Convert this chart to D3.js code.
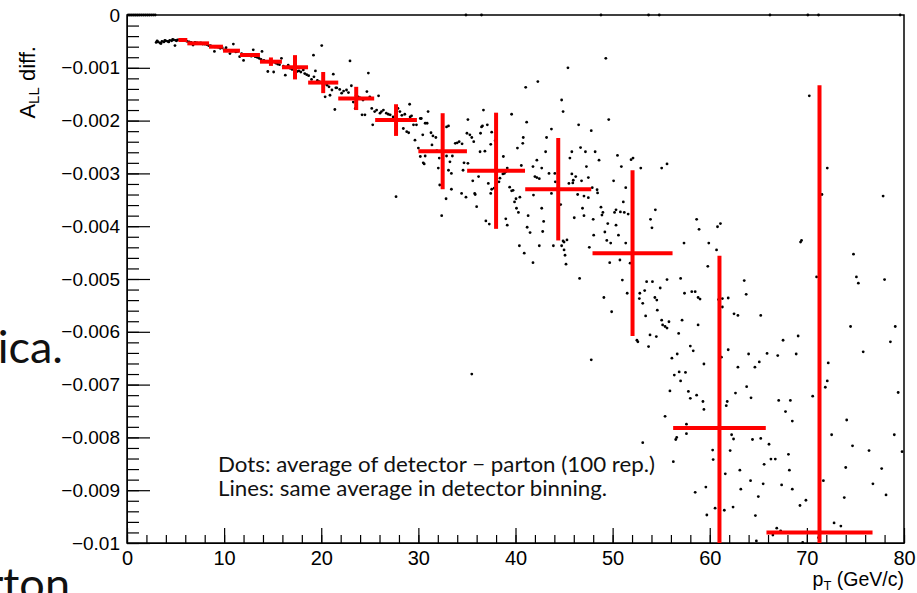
<!DOCTYPE html>
<html><head><meta charset="utf-8">
<script src="https://cdn.jsdelivr.net/npm/d3@7"></script>
<style>body{margin:0;background:#fff;} svg{display:block;}</style>
</head><body>
<svg id="c" width="917" height="593"></svg>
<script>
// ---- data ----
const xTickValues = [0,10,20,30,40,50,60,70,80];
const xTickLabels = ["0","10","20","30","40","50","60","70","80"];
const yTickValues = [0,-0.001,-0.002,-0.003,-0.004,-0.005,-0.006,-0.007,-0.008,-0.009,-0.01];
const yTickLabels = ["0","\u22120.001","\u22120.002","\u22120.003","\u22120.004","\u22120.005","\u22120.006","\u22120.007","\u22120.008","\u22120.009","\u22120.01"];

// detector-binned averages (red crosses)
const binCenter    = [5.75, 7.33, 9.16, 10.76, 12.66, 14.82, 17.3, 20.2, 23.6, 27.7, 32.5, 38.0, 44.4, 52.05, 61.0, 71.3];
const binHalfWidth = [0.46, 1.12, 0.72, 0.87, 1.03, 1.13, 1.34, 1.55, 1.85, 2.15, 2.5, 2.98, 3.4, 4.12, 4.77, 5.46];
const binValue     = [-0.000473,-0.000537,-0.0006,-0.000676,-0.000758,-0.000884,-0.00099,-0.00128,-0.00158,-0.00199,-0.00258,-0.00295,-0.0033,-0.00451,-0.00782,-0.0098];
const binError     = [0.00003,0.00003,0.00003,0.00003,0.00003,0.00008,0.00023,0.0002,0.00022,0.0003,0.00072,0.0011,0.00097,0.00157,0.00326,0.00847];

// fine-binned averages (black dots): [pT, A_LL diff]
const dots = [
[0.1,0],[0.3,0],[0.5,0],[0.7,0],[0.9,0],[1.1,0],[1.3,0],[1.5,0],[1.7,0],[1.9,0],[2.1,0],[2.3,0],[2.5,0],[2.7,0],[2.9,0],
[34.9,0],[36.5,0],[48.8,0],[53.7,0],[54.8,0],[66.2,0],[70.1,0],[71.2,0],[79.6,0],
[3.0,-0.00052],[3.1,-0.00049],[3.2,-0.00051],[3.4,-0.00053],[3.5,-0.00054],[3.6,-0.0005],[3.8,-0.00051],[3.9,-0.00048],[4.0,-0.00049],[4.2,-0.0005],[4.3,-0.00051],[4.4,-0.00048],[4.6,-0.00049],[4.7,-0.00046],[4.8,-0.00047],[4.94,-0.00058],[5.0,-0.00048],[5.1,-0.00049],[5.2,-0.00047],
[5.4,-0.00047],[5.6,-0.00048],[5.8,-0.00047],[6.0,-0.00049],[6.2,-0.0005],[6.4,-0.00051],[6.6,-0.00052],[6.8,-0.00057],[7.0,-0.00052],[7.2,-0.00053],[7.4,-0.00054],[7.6,-0.00053],[7.8,-0.00055],[8.0,-0.00055],[8.2,-0.00056],[8.4,-0.00058],
[8.6,-0.00058],[8.8,-0.0006],[9.0,-0.00069],[9.2,-0.0006],[9.4,-0.00061],[9.6,-0.00063],[9.8,-0.00062],
[10.0,-0.00066],[10.2,-0.00062],[10.4,-0.00067],[10.6,-0.00073],[10.8,-0.00068],[10.95,-0.00055],[11.2,-0.0007],[11.4,-0.00069],
[11.6,-0.00079],[11.8,-0.00073],[12.0,-0.00086],[12.2,-0.00075],[12.4,-0.00076],[12.6,-0.00077],[12.8,-0.00078],[13.0,-0.00066],[13.2,-0.00079],[13.4,-0.0008],[13.6,-0.00082],
[13.8,-0.00084],[13.9,-0.00069],[14.1,-0.00086],[14.3,-0.00088],[14.5,-0.00107],[14.7,-0.00089],[14.9,-0.0009],[15.1,-0.00108],[15.3,-0.00091],[15.5,-0.00093],[15.7,-0.00094],[15.9,-0.00082],
[16.1,-0.00097],[16.3,-0.00114],[16.5,-0.00099],[16.6,-0.00095],[16.8,-0.00101],[17.0,-0.00103],[17.2,-0.00102],[17.5,-0.00107],[17.7,-0.00106],[17.9,-0.00108],[18.15,-0.00104],[18.3,-0.00111],[18.5,-0.00113],
[18.7,-0.00115],[19.0,-0.00122],[19.2,-0.00076],[19.25,-0.00117],[19.4,-0.00106],[19.6,-0.00124],[19.8,-0.00126],[20.05,-0.00058],[20.1,-0.00129],[20.3,-0.00131],[20.4,-0.00155],[20.6,-0.00133],[20.8,-0.00136],[20.9,-0.00152],[21.1,-0.00142],[21.24,-0.00112],[21.4,-0.00179],[21.5,-0.00138],[21.6,-0.00138],
[21.9,-0.00141],[22.1,-0.00148],[22.3,-0.00144],[22.6,-0.00142],[22.8,-0.00147],[22.96,-0.00087],[23.1,-0.00134],[23.3,-0.00165],[23.5,-0.00177],[23.6,-0.00152],[23.8,-0.00155],[24.0,-0.00157],[24.2,-0.00189],[24.3,-0.00161],[24.5,-0.00189],[24.7,-0.00145],[24.85,-0.0011],[25.0,-0.00155],[25.2,-0.00177],[25.3,-0.00208],[25.5,-0.00183],
[25.7,-0.0018],[25.9,-0.00153],[26.05,-0.00186],[26.2,-0.00183],[26.4,-0.0018],[26.7,-0.00186],[26.9,-0.00188],[27.1,-0.00189],[27.4,-0.00193],[27.7,-0.00344],[27.9,-0.00177],[28.1,-0.00183],[28.3,-0.0019],[28.45,-0.00215],[28.6,-0.00188],[28.8,-0.00221],[29.0,-0.00223],[29.1,-0.00169],[29.15,-0.00193],[29.3,-0.00191],[29.5,-0.00208],[29.65,-0.00237],[29.8,-0.00208],[30.0,-0.00252],
[30.2,-0.00196],[30.2,-0.00268],[30.3,-0.00196],[30.45,-0.00227],[30.5,-0.0028],[30.6,-0.00282],[30.7,-0.00205],[30.7,-0.00267],[30.9,-0.00205],[31.0,-0.00183],[31.3,-0.00223],[31.4,-0.00246],[31.5,-0.00229],[31.8,-0.00232],[31.9,-0.00257],[32.05,-0.0029],[32.15,-0.00271],[32.2,-0.00322],[32.4,-0.0038],[32.85,-0.00348],[32.9,-0.00212],[32.9,-0.00267],[33.1,-0.0021],[33.1,-0.00294],[33.25,-0.00278],[33.4,-0.003],[33.4,-0.0033],[33.5,-0.00267],[33.8,-0.00243],[34.0,-0.00242],[34.2,-0.0024],[34.45,-0.00338],[34.5,-0.00244],[34.6,-0.00294],[34.7,-0.0028],[34.9,-0.00345],
[35.0,-0.00224],[35.1,-0.00198],[35.1,-0.00281],[35.3,-0.00227],[35.5,-0.00232],[35.5,-0.0068],[35.6,-0.00314],[35.7,-0.0024],[35.8,-0.00338],[35.85,-0.0034],[36.0,-0.00363],[36.2,-0.00306],[36.35,-0.00259],[36.4,-0.00224],[36.5,-0.00212],[36.6,-0.0021],[36.7,-0.0018],[36.85,-0.00258],[36.95,-0.0039],[37.1,-0.00208],[37.2,-0.00319],[37.3,-0.00396],[37.45,-0.00245],[37.45,-0.00338],[37.55,-0.0033],[37.55,-0.00222],[37.8,-0.00328],[37.9,-0.00238],[38.3,-0.00316],[38.4,-0.00309],[38.7,-0.00301],[38.75,-0.00268],[38.85,-0.003],[39.0,-0.00297],[39.0,-0.00386],[39.15,-0.0029],[39.15,-0.00398],[39.4,-0.00326],[39.6,-0.00188],[39.6,-0.00333],[39.75,-0.00332],[39.9,-0.00354],[40.05,-0.00348],[40.1,-0.00366],[40.2,-0.00252],[40.3,-0.00374],[40.4,-0.00437],[40.45,-0.00345],[40.6,-0.00285],[40.75,-0.00243],[40.8,-0.00232],[40.9,-0.00451],
[41.05,-0.00137],[41.15,-0.00203],[41.2,-0.00402],[41.3,-0.0038],[41.5,-0.00412],[41.8,-0.00469],[41.8,-0.00287],[41.85,-0.00341],[42.0,-0.00306],[42.2,-0.00275],[42.2,-0.00308],[42.3,-0.00126],[42.45,-0.0031],[42.45,-0.00437],[42.7,-0.0029],[42.7,-0.00366],[42.8,-0.0041],[42.9,-0.00391],[43.1,-0.00259],[43.2,-0.00232],[43.45,-0.003],[43.7,-0.00216],[43.7,-0.00338],[43.9,-0.00437],[44.05,-0.003],[44.1,-0.00316],[44.25,-0.0033],[44.65,-0.00359],[44.75,-0.00161],[44.75,-0.00437],[44.9,-0.00183],[44.9,-0.00428],[45.0,-0.0043],[45.0,-0.00445],[45.1,-0.00455],[45.2,-0.00472],[45.3,-0.00426],[45.4,-0.001],[45.5,-0.00319],[45.6,-0.00271],[45.8,-0.00259],[45.8,-0.00301],[45.9,-0.00318],[45.95,-0.00313],[46.05,-0.00384],[46.2,-0.00306],[46.4,-0.0034],[46.5,-0.00208],[46.6,-0.00499],[46.7,-0.00251],[46.8,-0.00314],[46.9,-0.00366],[47.05,-0.00343],[47.05,-0.0038],[47.2,-0.00259],[47.3,-0.00287],[47.5,-0.00308],[47.5,-0.00346],[47.6,-0.0044],[47.8,-0.00219],[47.8,-0.00653],[47.9,-0.00327],
[48.0,-0.00387],[48.05,-0.00417],[48.2,-0.00259],[48.4,-0.00331],[48.45,-0.00337],[48.6,-0.00275],[48.8,-0.00364],[48.9,-0.00379],[49.0,-0.00374],[49.1,-0.00535],[49.2,-0.00411],[49.3,-0.00082],[49.4,-0.00427],[49.5,-0.00395],[49.6,-0.00198],[49.7,-0.00469],[49.8,-0.00432],[49.9,-0.00562],[50.1,-0.00314],[50.2,-0.00374],[50.35,-0.00369],[50.35,-0.00398],[50.5,-0.00266],[50.6,-0.00417],[50.75,-0.00464],[50.8,-0.00373],[50.9,-0.00287],[51.0,-0.00502],[51.1,-0.00354],[51.2,-0.00374],[51.35,-0.00327],[51.35,-0.00432],[51.5,-0.00527],[51.6,-0.00377],[51.8,-0.0047],[51.9,-0.00274],[52.1,-0.00271],[52.5,-0.00616],[52.6,-0.00619],[52.75,-0.00537],[52.8,-0.00527],[52.9,-0.0029],[53.1,-0.00546],[53.1,-0.0081],[53.3,-0.00522],[53.4,-0.0057],[53.5,-0.00505],[53.7,-0.00628],[53.85,-0.00606],[53.9,-0.00387],[54.05,-0.00403],[54.1,-0.00505],[54.35,-0.00535],[54.4,-0.00369],[54.5,-0.00609],[54.55,-0.0054],[54.6,-0.00559],[54.9,-0.00517],[55.05,-0.0029],[55.05,-0.00578],[55.15,-0.00587],[55.4,-0.0059],[55.4,-0.0076],[55.6,-0.00282],[55.6,-0.00501],[55.6,-0.00593],[55.8,-0.00581],[55.9,-0.00712],
[56.1,-0.0065],[56.25,-0.00846],[56.35,-0.00682],[56.5,-0.00804],[56.6,-0.008],[56.65,-0.00642],[56.8,-0.00603],[56.85,-0.00676],[57.0,-0.00693],[57.0,-0.00499],[57.15,-0.00578],[57.35,-0.00432],[57.4,-0.00527],[57.5,-0.00677],[57.6,-0.00775],[57.6,-0.00793],[57.8,-0.00713],[58.0,-0.00627],[58.0,-0.00726],[58.15,-0.00524],[58.3,-0.00636],[58.5,-0.00524],[58.5,-0.00904],[58.65,-0.0072],[58.65,-0.00387],[58.8,-0.00535],[58.8,-0.00587],[58.9,-0.00406],[59.0,-0.00538],[59.3,-0.00732],[59.4,-0.00747],[59.4,-0.00661],[59.6,-0.00894],[59.7,-0.00947],[59.8,-0.00476],[59.9,-0.00432],[60.3,-0.00824],[60.35,-0.00842],[60.55,-0.00934],[60.7,-0.00445],[60.8,-0.00401],[60.9,-0.00539],[61.1,-0.00395],[61.2,-0.00648],[61.3,-0.00537],[61.3,-0.00553],[61.5,-0.00938],[61.6,-0.00869],[61.7,-0.0074],[61.8,-0.00732],[61.9,-0.00634],[61.9,-0.00536],[62.1,-0.00825],[62.25,-0.00795],[62.4,-0.00932],[62.45,-0.00803],[62.5,-0.00566],[62.65,-0.00716],[62.9,-0.00667],[62.9,-0.00569],[63.1,-0.00862],[63.2,-0.00898],[63.55,-0.00503],[63.75,-0.00529],[63.8,-0.00704],[64.0,-0.00642],[64.2,-0.00882],[64.25,-0.00725],[64.4,-0.00804],[64.65,-0.00667],[64.7,-0.00948],[64.8,-0.00996],[65.0,-0.00912],[65.1,-0.00657],[65.25,-0.00569],[65.25,-0.00802],[65.5,-0.00888],[65.6,-0.00851],[65.9,-0.00641],
[66.1,-0.00813],[66.3,-0.00841],[66.5,-0.00985],[66.75,-0.00841],[66.9,-0.00972],[67.0,-0.00645],[67.1,-0.0073],[67.3,-0.00977],[67.4,-0.0089],[67.55,-0.00616],[67.8,-0.00751],[68.1,-0.00832],[68.2,-0.00862],[68.3,-0.0073],[68.5,-0.00769],[68.5,-0.00898],[68.9,-0.00642],[69.1,-0.00608],[69.29,-0.00929],[69.35,-0.0043],[69.45,-0.00427],[69.57,-0.00999],[69.9,-0.00919],[70.25,-0.00153],[70.6,-0.00722],[71.0,-0.00496],[71.2,-0.0099],[71.55,-0.0034],[71.7,-0.00882],[71.9,-0.00705],[72.1,-0.00693],[72.1,-0.0029],[72.2,-0.00659],[72.55,-0.00795],[72.8,-0.00962],[73.5,-0.00968],[73.85,-0.00914],[74.0,-0.00857],[74.1,-0.00767],[74.5,-0.0059],[74.7,-0.00816],[74.8,-0.00453],[75.1,-0.00496],[75.3,-0.00508],[75.8,-0.00638],[76.4,-0.00825],[76.8,-0.00888],[77.7,-0.00859],[77.85,-0.00343],[78.0,-0.00501],[78.15,-0.00909],[78.6,-0.00619],[79.0,-0.00795],[79.1,-0.0059],[79.4,-0.00715],[79.8,-0.00827]
];

const annotationLines = ["Dots: average of detector \u2212 parton (100 rep.)", "Lines: same average in detector binning."];
const annotationWidths = [437, 389];

// ---- drawing ----
const svg = d3.select("#c");
const L = 127, R = 904, T = 15, B = 543;
const x = d3.scaleLinear().domain([0, 80]).range([L, R]);
const y = d3.scaleLinear().domain([-0.01, 0]).range([B, T]);

// slide text behind the chart
svg.append("text").attr("x", 63).attr("y", 363).attr("text-anchor", "end")
  .attr("font-family", "Lato, 'Open Sans', sans-serif").attr("font-size", 45).attr("fill", "#111").text("ica.");
svg.append("text").attr("x", 70).attr("y", 600).attr("text-anchor", "end")
  .attr("font-family", "Lato, 'Open Sans', sans-serif").attr("font-size", 45).attr("fill", "#111").text("rton");

const font = "'Liberation Sans', Arial, Helvetica, sans-serif";

// axes
const yMinor = d3.range(0, 51).map(i => -i * 0.0002);
const xMinor = d3.range(0, 41).map(i => i * 2);

svg.append("g").attr("transform", `translate(${L},0)`)
  .call(d3.axisLeft(y).tickValues(yMinor).tickSize(-12).tickSizeOuter(0).tickFormat(""))
  .call(g => g.select(".domain").remove());
svg.append("g").attr("transform", `translate(0,${B})`)
  .call(d3.axisBottom(x).tickValues(xMinor).tickSize(-8).tickSizeOuter(0).tickFormat(""))
  .call(g => g.select(".domain").remove());

const yAxis = svg.append("g").attr("transform", `translate(${L},0)`)
  .call(d3.axisLeft(y).tickValues(yTickValues).tickSize(-23).tickSizeOuter(0).tickPadding(7)
    .tickFormat((d, i) => yTickLabels[i]));
yAxis.selectAll("text").attr("font-family", font).attr("font-size", 19).attr("fill", "#000");

const xAxis = svg.append("g").attr("transform", `translate(0,${B})`)
  .call(d3.axisBottom(x).tickValues(xTickValues).tickSize(-15).tickSizeOuter(0).tickPadding(8)
    .tickFormat((d, i) => xTickLabels[i]));
xAxis.selectAll("text").attr("font-family", font).attr("font-size", 20).attr("fill", "#000");

svg.selectAll(".tick line").attr("stroke", "#000").attr("stroke-width", 1.2);

// frame
svg.append("rect").attr("x", L).attr("y", T).attr("width", R - L).attr("height", B - T)
  .attr("fill", "none").attr("stroke", "#000").attr("stroke-width", 1.5);

// clip
svg.append("clipPath").attr("id", "clip").append("rect")
  .attr("x", L).attr("y", T - 3).attr("width", R - L).attr("height", B - T + 3);
const plot = svg.append("g").attr("clip-path", "url(#clip)");

// dots
plot.append("g").selectAll("circle").data(dots).join("circle")
  .attr("cx", d => x(d[0])).attr("cy", d => y(d[1])).attr("r", 1.4).attr("fill", "#000");

// red crosses
const bins = binCenter.map((c, i) => ({c, hw: binHalfWidth[i], v: binValue[i], e: binError[i]}));
const rg = plot.append("g").attr("stroke", "#ff0000").attr("stroke-width", 4);
rg.selectAll("line.h").data(bins).join("line").attr("class", "h")
  .attr("x1", d => x(d.c - d.hw)).attr("x2", d => x(d.c + d.hw))
  .attr("y1", d => y(d.v)).attr("y2", d => y(d.v));
rg.selectAll("line.v").data(bins).join("line").attr("class", "v")
  .attr("x1", d => x(d.c)).attr("x2", d => x(d.c))
  .attr("y1", d => y(d.v + d.e)).attr("y2", d => y(d.v - d.e));

// axis titles
const yt = svg.append("text").attr("transform", "translate(35,46) rotate(-90)")
  .attr("text-anchor", "end").attr("font-family", font).attr("font-size", 22).attr("fill", "#000");
yt.append("tspan").text("A");
yt.append("tspan").attr("font-size", 15).attr("dy", 4).text("LL");
yt.append("tspan").attr("dy", -4).text(" diff.");

const xt = svg.append("text").attr("x", R).attr("y", 586)
  .attr("text-anchor", "end").attr("font-family", font).attr("font-size", 19.5).attr("fill", "#000");
xt.append("tspan").text("p");
xt.append("tspan").attr("font-size", 13).attr("dy", 4).text("T");
xt.append("tspan").attr("dy", -4).text(" (GeV/c)");

// annotation
svg.append("g").selectAll("text").data(annotationLines).join("text")
  .attr("x", 218).attr("y", (d, i) => 472 + i * 23.5)
  .attr("font-family", "Lato, 'Open Sans', sans-serif").attr("font-size", 21).attr("fill", "#111")
  .attr("textLength", (d, i) => annotationWidths[i]).attr("lengthAdjust", "spacingAndGlyphs")
  .text(d => d);
</script>
</body></html>
